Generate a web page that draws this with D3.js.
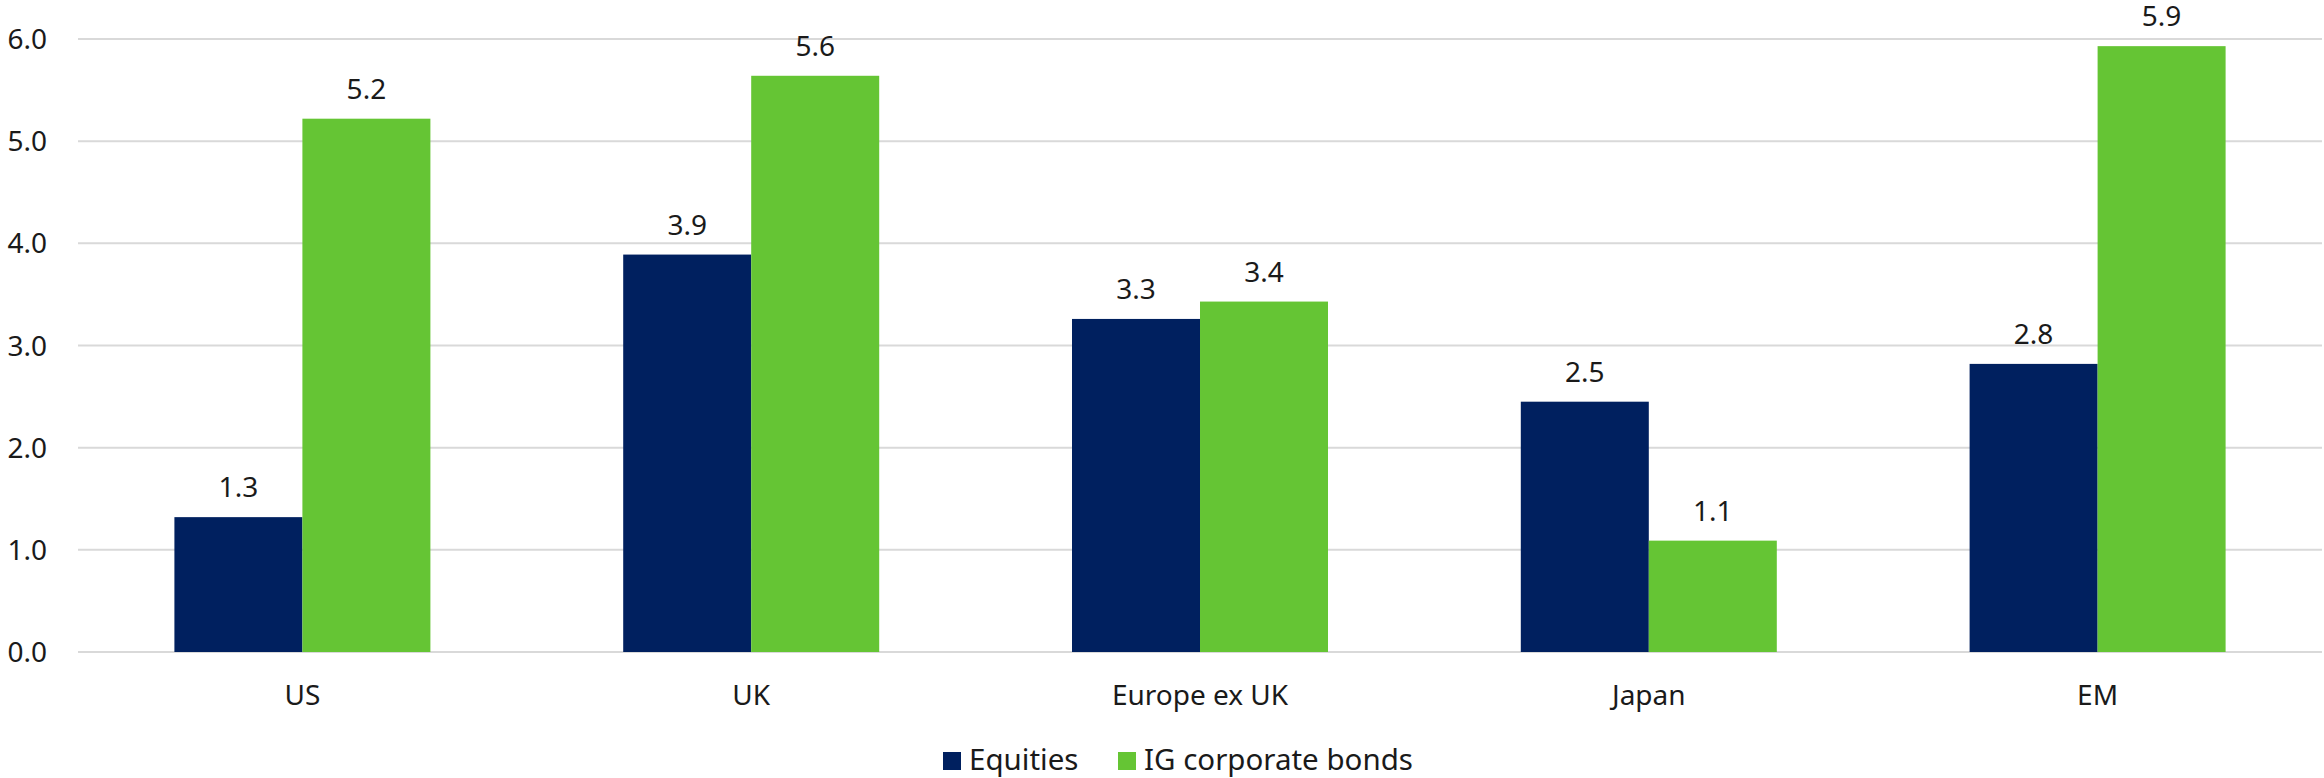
<!DOCTYPE html>
<html><head><meta charset="utf-8">
<script src="https://cdn.jsdelivr.net/npm/d3@7"></script>
<style>
html,body{margin:0;padding:0;background:#fff;}
svg{display:block;font-family:"Noto Sans",sans-serif;}
</style></head>
<body>
<svg id="c" width="2324" height="778"></svg>
<script>
const categories = ["US", "UK", "Europe ex UK", "Japan", "EM"];
const seriesNames = ["Equities", "IG corporate bonds"];
const equities = [1.32, 3.89, 3.26, 2.45, 2.82];
const igBonds = [5.22, 5.64, 3.43, 1.09, 5.93];
const yTicks = [0, 1, 2, 3, 4, 5, 6];
const colors = ["#00205f", "#65c534"];

(function () {
const svg = d3.select("#c");
const mLeft = 78, mRight = 2322, mTop = 39, mBottom = 652;
const x = d3.scaleBand().domain(categories).range([mLeft, mRight]).paddingInner(0.4296).paddingOuter(0.2148);
const xs = d3.scaleBand().domain(seriesNames).range([0, x.bandwidth()]);
const y = d3.scaleLinear().domain([0, 6]).range([mBottom, mTop]);

// gridlines
svg.append("g").selectAll("line").data(yTicks).join("line")
  .attr("x1", mLeft).attr("x2", mRight)
  .attr("y1", d => y(d)).attr("y2", d => y(d))
  .attr("stroke", "#d9d9d9").attr("stroke-width", 2);

// y tick labels
svg.append("g").selectAll("text").data(yTicks).join("text")
  .attr("x", 47).attr("y", d => y(d)).attr("dy", "0.36em")
  .attr("text-anchor", "end").attr("font-size", 28).attr("fill", "#1a1a1a")
  .text(d => d3.format(".1f")(d));

const data = categories.map((c, i) => ({cat: c, vals: [equities[i], igBonds[i]]}));
const groups = svg.append("g").selectAll("g").data(data).join("g")
  .attr("transform", d => `translate(${x(d.cat)},0)`);

groups.selectAll("rect").data(d => d.vals.map((v, j) => ({s: seriesNames[j], v, j}))).join("rect")
  .attr("x", d => xs(d.s)).attr("width", xs.bandwidth())
  .attr("y", d => y(d.v)).attr("height", d => y(0) - y(d.v))
  .attr("fill", d => colors[d.j]);

groups.selectAll("text").data(d => d.vals.map((v, j) => ({s: seriesNames[j], v, j}))).join("text")
  .attr("x", d => xs(d.s) + xs.bandwidth() / 2).attr("y", d => y(d.v) - 20)
  .attr("text-anchor", "middle").attr("font-size", 28).attr("fill", "#1a1a1a")
  .text(d => d3.format(".1f")(d.v));

// x labels
svg.append("g").selectAll("text").data(categories).join("text")
  .attr("x", d => x(d) + x.bandwidth() / 2).attr("y", 705)
  .attr("text-anchor", "middle").attr("font-size", 28).attr("fill", "#1a1a1a")
  .text(d => d);

// legend
const legX = [943, 1118];
const leg = svg.append("g").selectAll("g").data(seriesNames).join("g")
  .attr("transform", (d, i) => `translate(${legX[i]},0)`);
leg.append("rect").attr("x", 0).attr("y", 752).attr("width", 18).attr("height", 18)
  .attr("fill", (d, i) => colors[i]);
leg.append("text").attr("x", 26).attr("y", 770).attr("font-size", 29.5).attr("fill", "#1a1a1a")
  .text(d => d);
})();
</script>
</body></html>
